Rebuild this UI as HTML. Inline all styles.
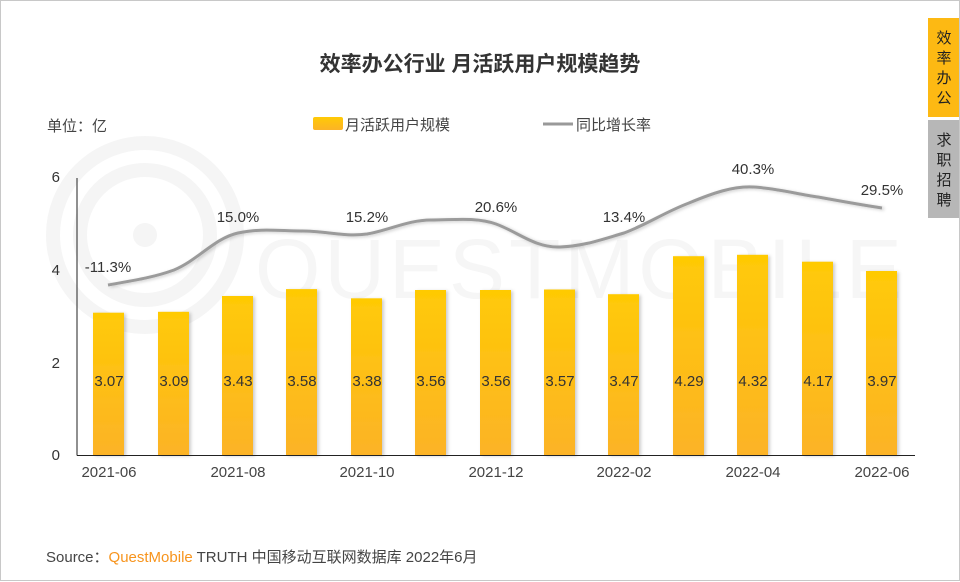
<!DOCTYPE html>
<html><head><meta charset="utf-8"><style>
body{margin:0;background:#fff;}
svg{display:block;font-family:"Liberation Sans","Noto Sans CJK SC",sans-serif;}
</style></head><body>
<svg width="960" height="582" viewBox="0 0 960 582">
<defs>
<linearGradient id="g" x1="0" y1="0" x2="0" y2="1"><stop offset="0" stop-color="#FFCA05"/><stop offset="1" stop-color="#FCB327"/></linearGradient>
<filter id="s" x="-20%" y="-20%" width="150%" height="150%"><feDropShadow dx="2" dy="1" stdDeviation="1.5" flood-color="#000" flood-opacity="0.2"/></filter>
</defs>
<rect x="0.5" y="0.5" width="959" height="580" fill="#fff" stroke="#c8c8c8"/>
<g fill="none" stroke="#f5f5f5" stroke-width="14">
<circle cx="145" cy="235" r="92"/><circle cx="145" cy="235" r="65"/>
</g>
<circle cx="145" cy="235" r="12" fill="#f5f5f5"/>
<text x="255" y="298" font-size="84" fill="#f6f6f6" letter-spacing="4">QUESTMOBILE</text>
<text x="480" y="71" text-anchor="middle" font-size="21" font-weight="bold" fill="#333">效率办公行业 月活跃用户规模趋势</text>
<text x="47" y="131" font-size="15" fill="#444">单位：亿</text>
<rect x="313" y="117" width="30" height="13" rx="2" fill="url(#g)"/>
<text x="345" y="130" font-size="15" fill="#444">月活跃用户规模</text>
<line x1="543" y1="124" x2="573" y2="124" stroke="#999" stroke-width="3"/>
<text x="576" y="130" font-size="15" fill="#444">同比增长率</text>
<rect x="928" y="18" width="31" height="99" fill="#FDB913"/>
<rect x="928" y="120" width="31" height="98" fill="#b7b7b7"/>
<g font-size="15" fill="#222" text-anchor="middle">
<text x="944" y="43">效</text><text x="944" y="63">率</text><text x="944" y="83">办</text><text x="944" y="103">公</text>
<text x="944" y="145">求</text><text x="944" y="165">职</text><text x="944" y="185">招</text><text x="944" y="205">聘</text>
</g>
<g font-size="15" fill="#333" text-anchor="end">
<text x="60" y="182">6</text><text x="60" y="275">4</text><text x="60" y="368">2</text><text x="60" y="460">0</text>
</g>
<g fill="url(#g)" filter="url(#s)">
<rect x="93" y="312.7" width="31" height="142.3"/>
<rect x="158" y="311.8" width="31" height="143.2"/>
<rect x="222" y="296" width="31" height="159"/>
<rect x="286" y="289.1" width="31" height="165.9"/>
<rect x="351" y="298.3" width="31" height="156.7"/>
<rect x="415" y="290" width="31" height="165"/>
<rect x="480" y="290" width="31" height="165"/>
<rect x="544" y="289.5" width="31" height="165.5"/>
<rect x="608" y="294.2" width="31" height="160.8"/>
<rect x="673" y="256.2" width="31" height="198.8"/>
<rect x="737" y="254.8" width="31" height="200.2"/>
<rect x="802" y="261.7" width="31" height="193.3"/>
<rect x="866" y="271" width="31" height="184"/>
</g>
<g font-size="15" fill="#333" text-anchor="middle">
<text x="109" y="386">3.07</text><text x="174" y="386">3.09</text><text x="238" y="386">3.43</text><text x="302" y="386">3.58</text><text x="367" y="386">3.38</text><text x="431" y="386">3.56</text><text x="496" y="386">3.56</text><text x="560" y="386">3.57</text><text x="624" y="386">3.47</text><text x="689" y="386">4.29</text><text x="753" y="386">4.32</text><text x="818" y="386">4.17</text><text x="882" y="386">3.97</text>
</g>
<line x1="77" y1="178" x2="77" y2="455.5" stroke="#222" stroke-width="1"/>
<line x1="77" y1="455.5" x2="915" y2="455.5" stroke="#222" stroke-width="1"/>
<path d="M108,285 C130,281 152,278 174,270 C198,260 215,238 238,233 C260,228 280,231 302,231 C326,231 344,237 367,234 C390,230 408,220 431,220 C455,220 476,217 496,224 C518,232 535,248 560,247 C584,246 600,240 624,233 C648,224 665,212 689,203 C713,193 733,186 753,187 C775,188 797,194 818,197 C840,201 862,205 882,208" fill="none" stroke="#9b9b9b" stroke-width="3" filter="url(#s)"/>
<g font-size="15" fill="#333" text-anchor="middle">
<text x="108" y="272">-11.3%</text><text x="238" y="222">15.0%</text><text x="367" y="222">15.2%</text><text x="496" y="212">20.6%</text><text x="624" y="222">13.4%</text><text x="753" y="174">40.3%</text><text x="882" y="195">29.5%</text>
</g>
<g font-size="15" fill="#444" text-anchor="middle">
<text x="109" y="477">2021-06</text><text x="238" y="477">2021-08</text><text x="367" y="477">2021-10</text><text x="496" y="477">2021-12</text><text x="624" y="477">2022-02</text><text x="753" y="477">2022-04</text><text x="882" y="477">2022-06</text>
</g>
<text x="46" y="562" font-size="15" fill="#444">Source：<tspan fill="#F7941D">QuestMobile</tspan> TRUTH 中国移动互联网数据库 2022年6月</text>
</svg>
</body></html>
